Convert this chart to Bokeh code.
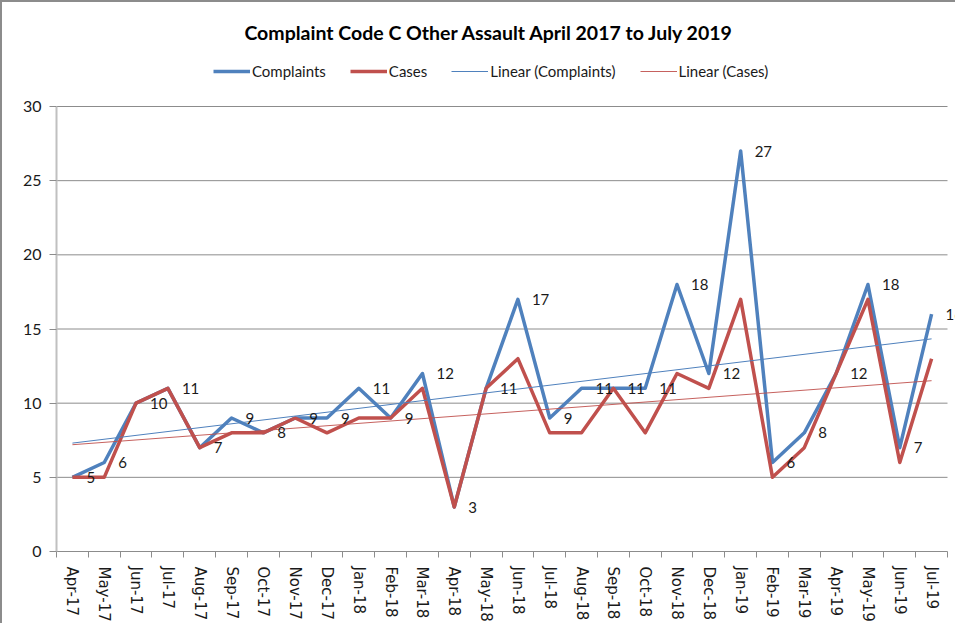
import numpy as np
from bokeh.plotting import figure
from bokeh.models import (Range1d, FixedTicker, Legend, LegendItem, Label, LinearAxis)
from bokeh.core.properties import value
from bokeh.embed import file_html
from bokeh.resources import INLINE

months = ["Apr-17", "May-17", "Jun-17", "Jul-17", "Aug-17", "Sep-17", "Oct-17", "Nov-17",
          "Dec-17", "Jan-18", "Feb-18", "Mar-18", "Apr-18", "May-18", "Jun-18", "Jul-18",
          "Aug-18", "Sep-18", "Oct-18", "Nov-18", "Dec-18", "Jan-19", "Feb-19", "Mar-19",
          "Apr-19", "May-19", "Jun-19", "Jul-19"]
complaints = [5, 6, 10, 11, 7, 9, 8, 9, 9, 11, 9, 12, 3, 11, 17, 9, 11, 11, 11, 18, 12, 27,
              6, 8, 12, 18, 7, 16]
cases = [5, 5, 10, 11, 7, 8, 8, 9, 8, 9, 9, 11, 3, 11, 13, 8, 8, 11, 8, 12, 11, 17,
         5, 7, 12, 17, 6, 13]
y_ticks = [0, 5, 10, 15, 20, 25, 30]
y_max = 30
title_text = "Complaint Code C Other Assault April 2017 to July 2019"

BLUE = "#4F81BD"
RED = "#C0504D"
FONT = "Lato"
GRID = "#8c8c8c"

n = len(months)
xs = list(range(n))

W, H = 955, 623
FRAME_LEFT = 54
AXIS_RIGHT = 945        # pixel column where the category axis ends
FRAME_BOTTOM = 549      # pixel row of value 0
FRAME_TOP_VAL = 104     # pixel row of value 30
units_top = y_max * FRAME_BOTTOM / (FRAME_BOTTOM - FRAME_TOP_VAL)
px_per_cat = (AXIS_RIGHT - FRAME_LEFT) / n
x_end = -0.5 + (W - FRAME_LEFT) / px_per_cat

p = figure(width=W, height=H, output_backend="svg", toolbar_location=None,
           title_location=None,
           x_range=Range1d(-0.5, x_end), y_range=Range1d(0, units_top),
           min_border_left=FRAME_LEFT, min_border_right=0, min_border_top=0,
           min_border_bottom=H - FRAME_BOTTOM,
           x_axis_type=None, y_axis_type=None)
p.outline_line_color = None
p.background_fill_color = "white"
p.border_fill_color = "white"
p.styles = {"border-left": "2px solid #8c8c8c", "border-top": "2px solid #8c8c8c"}

# axes
xaxis = LinearAxis(ticker=FixedTicker(ticks=xs, minor_ticks=[i - 0.5 for i in range(n + 1)]),
                   bounds=(-0.5, n - 0.5))
xaxis.major_label_overrides = {i: m for i, m in enumerate(months)}
xaxis.major_label_orientation = "vertical"
xaxis.major_tick_out = 0
xaxis.major_tick_in = 0
xaxis.minor_tick_out = 6
xaxis.minor_tick_in = 0
xaxis.minor_tick_line_color = GRID
xaxis.axis_line_color = GRID
xaxis.major_label_standoff = 9
xaxis.major_label_text_font = "DejaVu Sans"
xaxis.major_label_text_font_size = "15px"
xaxis.major_label_text_color = "#1a1a1a"
p.add_layout(xaxis, "below")

yaxis = LinearAxis(ticker=FixedTicker(ticks=y_ticks, minor_ticks=[]), bounds=(0, y_max))
yaxis.major_tick_out = 7
yaxis.major_tick_in = 0
yaxis.major_tick_line_color = GRID
yaxis.axis_line_color = "#c0c0c0"
yaxis.axis_line_width = 2
yaxis.major_label_standoff = 8
yaxis.major_label_text_font = FONT
yaxis.major_label_text_font_size = "16px"
yaxis.major_label_text_color = "#1a1a1a"
p.add_layout(yaxis, "left")

# horizontal gridlines, limited to the category axis extent
p.xgrid.visible = False
p.ygrid.visible = False
grid_vals = y_ticks[1:]
p.segment(x0=[-0.5] * len(grid_vals), x1=[n - 0.5] * len(grid_vals),
          y0=grid_vals, y1=grid_vals, line_color=GRID, line_width=1)

# series
r_comp = p.line(xs, complaints, line_color=BLUE, line_width=3.5, line_join="round")
r_case = p.line(xs, cases, line_color=RED, line_width=3.5, line_join="round")

# linear trendlines (least squares fit of each series)
xa = np.array(xs, dtype=float)
fc = np.polyfit(xa, np.array(complaints, dtype=float), 1)
fk = np.polyfit(xa, np.array(cases, dtype=float), 1)
ends = [xa[0], xa[-1]]
r_tc = p.line(ends, list(np.polyval(fc, ends)), line_color=BLUE, line_width=1)
r_tk = p.line(ends, list(np.polyval(fk, ends)), line_color=RED, line_width=1, line_alpha=0.9)

# data labels (complaints values)
p.text(x=xs, y=complaints, text=[str(v) for v in complaints], x_offset=14,
       text_align="left", text_baseline="middle", text_font=value(FONT),
       text_font_size="15px", text_color="#1a1a1a")

# title (frame covers whole canvas height, so screen y is measured from value 0 row)
p.add_layout(Label(x=433, y=FRAME_BOTTOM - 30, x_units="screen", y_units="screen",
                   text=title_text, text_align="center", text_baseline="middle",
                   text_font=FONT, text_font_size="19.5px", text_font_style="bold",
                   text_color="#000000"))

legend = Legend(items=[LegendItem(label="Complaints", renderers=[r_comp]),
                       LegendItem(label="Cases", renderers=[r_case]),
                       LegendItem(label="Linear (Complaints)", renderers=[r_tc]),
                       LegendItem(label="Linear (Cases)", renderers=[r_tk])],
                orientation="horizontal", location=(157, FRAME_BOTTOM - 79),
                glyph_width=37, glyph_height=20, label_height=20, label_width=0,
                label_standoff=2, spacing=24, padding=0, margin=0,
                border_line_color=None, background_fill_alpha=0,
                label_text_font=FONT, label_text_font_size="15px", label_text_color="#1a1a1a")
p.add_layout(legend, "center")

open("out.html", "w").write(file_html(p, INLINE))
